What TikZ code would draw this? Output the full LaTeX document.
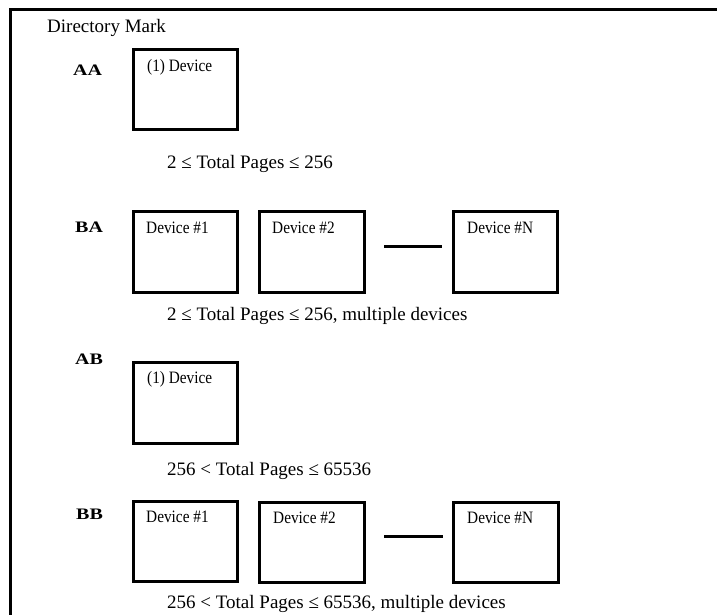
\documentclass[tikz,border=0pt]{standalone}
\usepackage{fontspec}
\setmainfont{Liberation Serif}
\newfontfamily\devfont[FakeStretch=0.88]{Liberation Serif}
\newfontfamily\lblfont[FakeStretch=1.25]{Liberation Serif}
\begin{document}
\begin{tikzpicture}[x=1pt,y=-1pt,
  txt/.style={anchor=base west,inner sep=0pt,font=\fontsize{19}{22}\selectfont},
  devtxt/.style={anchor=base west,inner sep=0pt,font=\devfont\fontsize{17.4}{20}\selectfont},
  tag/.style={anchor=base west,inner sep=0pt,font=\lblfont\bfseries\fontsize{16}{19}\selectfont},
  devbox/.style={draw,line width=3pt,inner sep=0pt},
  conn/.style={line width=3pt},
  frame/.style={line width=3pt}]
\useasboundingbox (0,0) rectangle (717,615);
\clip (0,0) rectangle (717,615);
\fill[white] (0,0) rectangle (717,615);
% frame
\coordinate (fbl) at (10.5,620);
\coordinate (ftl) at (10.5,10);
\coordinate (ftr) at (722,10);
\draw[frame] (fbl) -- (ftl) -- (ftr);
\node[txt] (title) at (47,33) {Directory Mark};
% AA
\node[tag] (tAA) at (73,76) {AA};
\draw[devbox] (133,50) rectangle (237,130) node[pos=0.5] (aa1) {};
\node[devtxt] (aa1t) at (147,72) {(1) Device};
\node[txt] (aaL) at (167,168) {2 ≤ Total Pages ≤ 256};
% BA
\node[tag] (tBA) at (75,232) {BA};
\draw[devbox] (133,211) rectangle (237,292) node[pos=0.5] (ba1) {};
\draw[devbox] (259,211) rectangle (364,292) node[pos=0.5] (ba2) {};
\draw[devbox] (453,211) rectangle (557,292) node[pos=0.5] (baN) {};
\node[devtxt] (ba1t) at (146,233) {Device \#1};
\node[devtxt] (ba2t) at (272,233) {Device \#2};
\node[devtxt] (baNt) at (467,233) {Device \#N};
\coordinate (baC1) at (384,246);
\coordinate (baC2) at (442,246);
\draw[conn] (baC1) -- (baC2);
\node[txt] (baL) at (167,320) {2 ≤ Total Pages ≤ 256, multiple devices};
% AB
\node[tag] (tAB) at (75,364) {AB};
\draw[devbox] (133,362) rectangle (237,443) node[pos=0.5] (ab1) {};
\node[devtxt] (ab1t) at (147,383) {(1) Device};
\node[txt] (abL) at (167,475) {256 < Total Pages ≤ 65536};
% BB
\node[tag] (tBB) at (76,519) {BB};
\draw[devbox] (133,501) rectangle (237,581) node[pos=0.5] (bb1) {};
\draw[devbox] (259,502) rectangle (364,582) node[pos=0.5] (bb2) {};
\draw[devbox] (453,502) rectangle (558,582) node[pos=0.5] (bbN) {};
\node[devtxt] (bb1t) at (146,522) {Device \#1};
\node[devtxt] (bb2t) at (273,523) {Device \#2};
\node[devtxt] (bbNt) at (467,523) {Device \#N};
\coordinate (bbC1) at (384,536);
\coordinate (bbC2) at (443,536);
\draw[conn] (bbC1) -- (bbC2);
\node[txt] (bbL) at (167,608) {256 < Total Pages ≤ 65536, multiple devices};
\end{tikzpicture}
\end{document}
